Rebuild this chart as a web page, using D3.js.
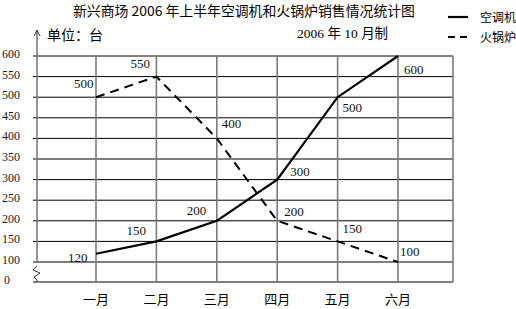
<!DOCTYPE html>
<html>
<head>
<meta charset="utf-8">
<script src="https://cdn.jsdelivr.net/npm/d3@7"></script>
<style>
  html, body { margin: 0; padding: 0; background: #fff; }
  svg { display: block; }
  .cjk { font-family: "Noto Sans CJK SC", sans-serif; }
  .num { font-family: "Liberation Serif", "DejaVu Serif", serif; }
</style>
</head>
<body>
<script>
// Monthly sales, first half of 2006 (units)
const months = ["一月", "二月", "三月", "四月", "五月", "六月"];
const airConditioners = [120, 150, 200, 300, 500, 600];
const hotpotStoves = [500, 550, 400, 200, 150, 100];
const yTicks = [0, 100, 150, 200, 250, 300, 350, 400, 450, 500, 550, 600];
const gridValues = [0, 100, 150, 200, 250, 300, 350, 400, 450, 500, 550, 600];

const W = 516, H = 309;
const svg = d3.select("body").append("svg").attr("width", W).attr("height", H);

const axisX = 37, rightX = 453;
const x = d3.scalePoint().domain(months).range([96, 398]);
// broken axis: 0 to 100 compressed into a short segment
const y = d3.scaleLinear().domain([0, 100, 600]).range([282, 262, 56]);

// horizontal grid lines
svg.append("g").selectAll("line").data(gridValues).join("line")
  .attr("x1", axisX - 4).attr("x2", rightX)
  .attr("y1", d => y(d)).attr("y2", d => y(d))
  .attr("stroke", "#000").attr("stroke-width", 1);

// vertical grid lines
svg.append("g").selectAll("line").data(months).join("line")
  .attr("x1", d => x(d)).attr("x2", d => x(d))
  .attr("y1", y(600)).attr("y2", y(0))
  .attr("stroke", "#7a7a7a").attr("stroke-width", 1.6);
svg.append("line")
  .attr("x1", rightX).attr("x2", rightX).attr("y1", y(600)).attr("y2", y(0))
  .attr("stroke", "#7a7a7a").attr("stroke-width", 1.6);

// y axis with arrow and break mark
svg.append("line")
  .attr("x1", axisX).attr("x2", axisX).attr("y1", 30).attr("y2", y(100))
  .attr("stroke", "#7a7a7a").attr("stroke-width", 1.6);
svg.append("path")
  .attr("d", `M${axisX - 3},36 L${axisX},30 L${axisX + 3},36`)
  .attr("fill", "none").attr("stroke", "#333").attr("stroke-width", 1);
svg.append("path")
  .attr("d", `M${axisX},${y(100) + 4} L${axisX - 4},${y(100) + 8} L${axisX + 3},${y(100) + 11} L${axisX - 3},${y(100) + 15} L${axisX},${y(100) + 18} L${axisX},${y(0)}`)
  .attr("fill", "none").attr("stroke", "#333").attr("stroke-width", 1);

// y tick labels
svg.append("g").selectAll("text").data(yTicks).join("text")
  .attr("class", "num")
  .attr("x", d => d === 0 ? 4 : 2)
  .attr("y", d => y(d) + 2)
  .attr("font-size", 12).attr("fill", "#1a1a2a")
  .text(d => d);

// x labels
svg.append("g").selectAll("text").data(months).join("text")
  .attr("class", "cjk")
  .attr("x", d => x(d)).attr("y", 304)
  .attr("text-anchor", "middle").attr("font-size", 13).attr("fill", "#000")
  .text(d => d);

const line = d3.line().x((d, i) => x(months[i])).y(d => y(d));

svg.append("path").datum(hotpotStoves)
  .attr("d", line).attr("fill", "none")
  .attr("stroke", "#000").attr("stroke-width", 2)
  .attr("stroke-dasharray", "9,6");

svg.append("path").datum(airConditioners)
  .attr("d", line).attr("fill", "none")
  .attr("stroke", "#000").attr("stroke-width", 2.2);

// value labels: [dx, dy] offsets from each point
const acOffsets = [[-28, 8], [-30, -6], [-30, -6], [13, -4], [5, 15], [6, 18]];
const hsOffsets = [[-22, -9], [-26, -9], [5, -10], [7, -5], [5, -8], [2, -6]];

function labels(values, offsets) {
  svg.append("g").selectAll("text").data(values).join("text")
    .attr("class", "num")
    .attr("x", (d, i) => x(months[i]) + offsets[i][0])
    .attr("y", (d, i) => y(d) + offsets[i][1])
    .attr("font-size", 13).attr("fill", "#111")
    .text(d => d);
}
labels(airConditioners, acOffsets);
labels(hotpotStoves, hsOffsets);

// titles
svg.append("text").attr("class", "cjk")
  .attr("x", 73).attr("y", 16).attr("font-size", 13.5)
  .attr("textLength", 342).attr("lengthAdjust", "spacingAndGlyphs")
  .text("新兴商场 2006 年上半年空调机和火锅炉销售情况统计图");
svg.append("text").attr("class", "cjk")
  .attr("x", 47).attr("y", 40).attr("font-size", 14)
  .text("单位：台");
const made = svg.append("text").attr("x", 297).attr("y", 38).attr("font-size", 13.5);
made.append("tspan").attr("class", "num").text("2006 ");
made.append("tspan").attr("class", "cjk").text("年");
made.append("tspan").attr("class", "num").text(" 10 ");
made.append("tspan").attr("class", "cjk").text("月制");

// legend
svg.append("line").attr("x1", 448).attr("x2", 468).attr("y1", 17).attr("y2", 17)
  .attr("stroke", "#000").attr("stroke-width", 2.2);
svg.append("text").attr("class", "cjk").attr("x", 480).attr("y", 22)
  .attr("font-size", 12).text("空调机");
svg.append("line").attr("x1", 448).attr("x2", 468).attr("y1", 37).attr("y2", 37)
  .attr("stroke", "#000").attr("stroke-width", 2).attr("stroke-dasharray", "7,5");
svg.append("text").attr("class", "cjk").attr("x", 480).attr("y", 42)
  .attr("font-size", 12).text("火锅炉");
</script>
</body>
</html>
